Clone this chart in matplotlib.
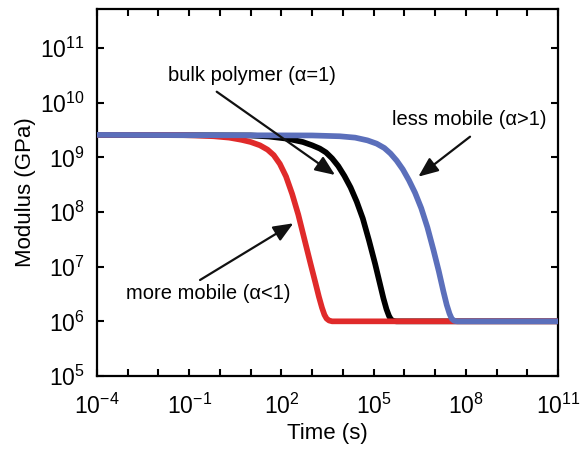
import numpy as np
import matplotlib
matplotlib.use('Agg')
import matplotlib.pyplot as plt

plt.rcParams['font.family'] = ['Liberation Sans', 'DejaVu Sans']
plt.rcParams['mathtext.fontset'] = 'custom'
plt.rcParams['mathtext.rm'] = 'Liberation Sans'
plt.rcParams['mathtext.it'] = 'Liberation Sans:italic'

# curves, as (log10 time, log10 modulus)
red_logt = [-4, -1.5, -0.8, -0.2, 0.3, 0.7, 1.0, 1.3, 1.55, 1.75, 1.95, 2.15, 2.35, 2.55, 2.75,
            2.95, 3.1, 3.22, 3.32, 3.4, 3.47, 3.55, 3.65, 11]
red_logG = [9.41, 9.41, 9.40, 9.385, 9.36, 9.32, 9.28, 9.22, 9.14, 9.04, 8.88, 8.65, 8.33, 7.95, 7.5,
            7.05, 6.72, 6.45, 6.25, 6.12, 6.05, 6.015, 6.0, 6.0]

black_logt = [-4, 1.0, 1.6, 2.2, 2.7, 3.0, 3.25, 3.45, 3.65, 3.85, 4.05, 4.25, 4.45, 4.65, 4.85,
              5.05, 5.2, 5.32, 5.42, 5.5, 5.57, 5.65, 5.75, 11]
black_logG = [9.41, 9.40, 9.38, 9.34, 9.28, 9.22, 9.16, 9.09, 8.98, 8.84, 8.66, 8.45, 8.19, 7.88, 7.48,
              7.05, 6.7, 6.42, 6.22, 6.1, 6.03, 6.005, 6.0, 6.0]

blue_logt = [-4, 3.0, 3.9, 4.4, 4.8, 5.1, 5.35, 5.55, 5.75, 5.95, 6.15, 6.35, 6.55, 6.75, 6.95,
             7.12, 7.27, 7.38, 7.47, 7.54, 7.62, 7.72, 11]
blue_logG = [9.41, 9.40, 9.385, 9.36, 9.31, 9.25, 9.17, 9.07, 8.94, 8.78, 8.58, 8.35, 8.07, 7.72, 7.3,
             6.92, 6.55, 6.3, 6.14, 6.05, 6.01, 6.0, 6.0]

xtick_exp = list(range(-4, 12))
xtick_labels = ['10$^{%d}$' % e if (e + 4) % 3 == 0 else '' for e in xtick_exp]
ytick_exp = list(range(5, 12))
ytick_labels = ['10$^{%d}$' % e for e in ytick_exp]

def pw(v):
  return [10.0 ** vi for vi in v]

fig = plt.figure(figsize=(5.8, 4.51), dpi=100)
ax = fig.add_axes([97/580, 1 - 376/451, (558-97)/580, (376-9)/451])

line = dict(lw=4.1, solid_capstyle='butt', solid_joinstyle='round')
ax.plot(pw(black_logt), pw(black_logG), color='black', zorder=2, **line)
ax.plot(pw(red_logt), pw(red_logG), color='#e02a2a', zorder=3, **line)
ax.plot(pw(blue_logt), pw(blue_logG), color='#5b6fbb', zorder=4, **line)

ax.set_xscale('log')
ax.set_yscale('log')
ax.set_xlim(1e-4, 1e11)
ax.set_ylim(1e5, 10 ** 11.713)

ax.set_xticks(pw(xtick_exp))
ax.set_xticklabels(xtick_labels)
ax.set_yticks(pw(ytick_exp))
ax.set_yticklabels(ytick_labels)
ax.minorticks_off()
ax.tick_params(which='major', direction='in', length=5, width=1.5,
               top=True, right=True, labelsize=16.5)
ax.tick_params(axis='x', pad=13)
ax.tick_params(axis='y', pad=9)
for s in ax.spines.values():
  s.set_linewidth(1.6)

ax.set_xlabel('Time (s)', fontsize=16, labelpad=3)
ax.set_ylabel('Modulus (GPa)', fontsize=16, labelpad=3)

arrow = dict(arrowstyle='-|>,head_length=0.6,head_width=0.25', mutation_scale=20,
             lw=1.6, color='#111111', shrinkA=0, shrinkB=0)
ax.annotate('', xy=(10 ** 3.745, 10 ** 8.677), xytext=(10 ** -0.105, 10 ** 10.2), arrowprops=arrow, zorder=5)
ax.annotate('', xy=(10 ** 6.456, 10 ** 8.646), xytext=(10 ** 8.138, 10 ** 9.377), arrowprops=arrow, zorder=5)
ax.annotate('', xy=(10 ** 2.388, 10 ** 7.793), xytext=(10 ** -0.648, 10 ** 6.756), arrowprops=arrow, zorder=5)

ax.text(10 ** 1.044, 10 ** 10.49, 'bulk polymer (\u03b1=1)', fontsize=14.5, ha='center', va='center')
ax.text(10 ** 8.105, 10 ** 9.683, 'less mobile (\u03b1>1)', fontsize=14.5, ha='center', va='center')
ax.text(10 ** -0.388, 10 ** 6.5, 'more mobile (\u03b1<1)', fontsize=14.5, ha='center', va='center')

plt.savefig('out.png', dpi=100)
